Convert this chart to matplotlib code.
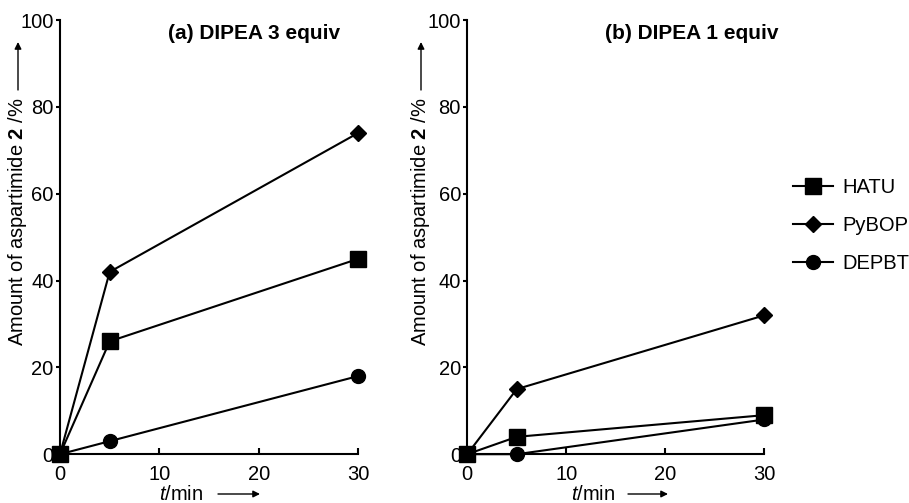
import matplotlib
matplotlib.use('Agg')
import matplotlib.pyplot as plt

plt.rcParams['font.family'] = ['Liberation Sans', 'DejaVu Sans']
plt.rcParams['mathtext.fontset'] = 'custom'
plt.rcParams['mathtext.rm'] = 'Liberation Sans'
plt.rcParams['mathtext.it'] = 'Liberation Sans:italic'
plt.rcParams['mathtext.bf'] = 'Liberation Sans:bold'

# data
t = [0, 5, 30]
reagents = ['HATU', 'PyBOP', 'DEPBT']
hatu_a = [0, 26, 45]
pybop_a = [0, 42, 74]
depbt_a = [0, 3, 18]
hatu_b = [0, 4, 9]
pybop_b = [0, 15, 32]
depbt_b = [0, 0, 8]
titles = ['(a) DIPEA 3 equiv', '(b) DIPEA 1 equiv']

styles = {'HATU': dict(marker='s', markersize=12),
          'PyBOP': dict(marker='D', markersize=8),
          'DEPBT': dict(marker='o', markersize=10)}

fs = 14.5
W, H = 909, 503
fig = plt.figure(figsize=(9.09, 5.03), dpi=100)
ax_a = fig.add_axes([0.066, 0.097, 0.328, 0.863])
ax_b = fig.add_axes([0.514, 0.097, 0.327, 0.863])

# per panel: title x, ylabel x, xlabel x (axes fraction), arrow pixel positions
title_x = [0.65, 0.755]
ylab_x = [-0.141, -0.158]
xlab_x = [0.406, 0.424]
yarrow_px = [18, 421]
xarrow_px = [(218, 260), (628, 668)]


def fig_arrow(x0, y0, x1, y1):
    # arrow from (x0, y0) to (x1, y1), pixel coords from top-left
    fig.add_artist(matplotlib.patches.FancyArrowPatch(
        (x0 / W, 1 - y0 / H), (x1 / W, 1 - y1 / H), transform=fig.transFigure,
        arrowstyle='-|>', mutation_scale=10, lw=1.0, color='black',
        shrinkA=0, shrinkB=0))


panels = [(ax_a, [hatu_a, pybop_a, depbt_a]), (ax_b, [hatu_b, pybop_b, depbt_b])]
lines = []
for i, (ax, series) in enumerate(panels):
    for name, vals in zip(reagents, series):
        ln, = ax.plot(t, vals, color='black', lw=1.5, clip_on=False,
                      zorder=3, label=name, **styles[name])
        if i == 1:
            lines.append(ln)
    ax.set_xlim(0, 30)
    ax.set_ylim(0, 100)
    ax.set_xticks([0, 10, 20, 30])
    ax.set_yticks([0, 20, 40, 60, 80, 100])
    for s in ['top', 'right']:
        ax.spines[s].set_visible(False)
    for s in ['left', 'bottom']:
        ax.spines[s].set_linewidth(1.5)
    ax.tick_params(axis='x', direction='in', length=4, width=1.5, labelsize=fs, pad=8)
    ax.tick_params(axis='y', direction='out', length=3, width=1.5, labelsize=fs, pad=1.5)
    ax.text(xlab_x[i], -0.093, r'$t$/min', transform=ax.transAxes,
            ha='center', va='center', fontsize=fs)
    ax.text(ylab_x[i], 0.535, r'Amount of aspartimide $\mathbf{2}$ /%',
            transform=ax.transAxes, rotation=90, ha='center', va='center', fontsize=fs)
    ax.text(title_x[i], 0.99, titles[i], transform=ax.transAxes, ha='center',
            va='top', fontsize=15, fontweight='bold')
    fig_arrow(yarrow_px[i], 90, yarrow_px[i], 42)
    fig_arrow(xarrow_px[i][0], 494, xarrow_px[i][1], 494)

fig.legend(handles=lines, loc='center left', bbox_to_anchor=(0.8724, 0.551),
           frameon=False, fontsize=fs, handlelength=2.0, labelspacing=0.95,
           handletextpad=0.45, borderpad=0, borderaxespad=0)

fig.savefig('out.png', dpi=100)
